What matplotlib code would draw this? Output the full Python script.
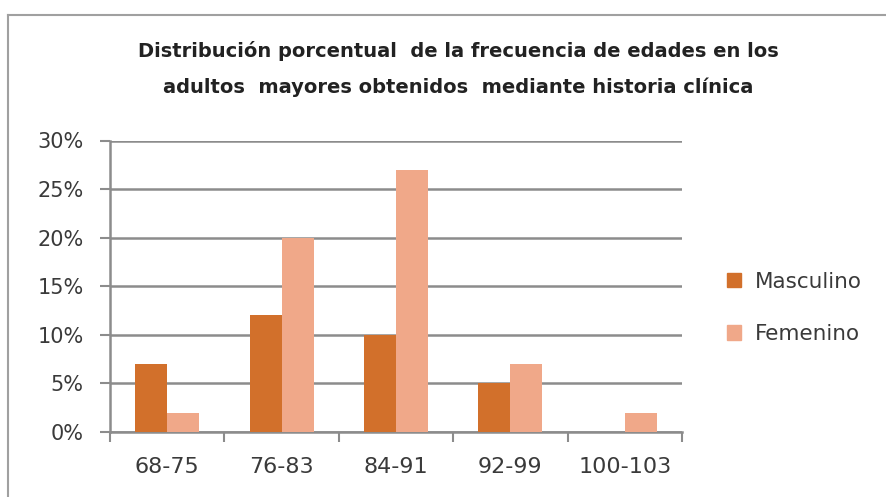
import matplotlib
matplotlib.use("Agg")
import matplotlib.pyplot as plt
from matplotlib.lines import Line2D
from matplotlib.patches import Patch
import numpy as np

categories = ["68-75", "76-83", "84-91", "92-99", "100-103"]
masculino = [7, 12, 10, 5, 0]
femenino = [2, 20, 27, 7, 2]
yticks = [0, 5, 10, 15, 20, 25, 30]
title = ("Distribución porcentual  de la frecuencia de edades en los\n"
         "adultos  mayores obtenidos  mediante historia clínica")

c_m = "#D2702B"
c_f = "#F0A889"
grid_c = "#8C8C8C"
txt_c = "#3A3A3A"

plt.rcParams['font.family'] = ['DejaVu Sans']

W, H = 886, 497
fig = plt.figure(figsize=(W/100, H/100), dpi=100)
ax = fig.add_axes([110/W, 1-432/H, (682-110)/W, (432-140.5)/H])

x = np.arange(len(categories))
bw = 0.28
ax.bar(x - bw/2, masculino, bw, color=c_m, zorder=3)
ax.bar(x + bw/2, femenino, bw, color=c_f, zorder=3)

ax.set_xlim(-0.5, len(categories) - 0.5)
ax.set_ylim(0, 30)
ax.set_yticks(yticks)
ax.set_yticklabels([f"{v}%" for v in yticks], fontsize=15, color=txt_c)
ax.yaxis.grid(True, color=grid_c, linewidth=1.8, zorder=0)
ax.set_axisbelow(True)

ax.set_xticks(x)
ax.set_xticklabels(categories, fontsize=16, color=txt_c)
ax.tick_params(axis='x', length=0, pad=18)
ax.set_xticks(np.arange(-0.5, len(categories)), minor=True)
ax.tick_params(axis='x', which='minor', length=7, width=1.5, color=grid_c, direction='out')
ax.tick_params(axis='y', length=7, width=1.5, color=grid_c, direction='out', pad=12)

for s in ['top', 'right']:
    ax.spines[s].set_visible(False)
for s in ['left', 'bottom']:
    ax.spines[s].set_color(grid_c)
    ax.spines[s].set_linewidth(1.8)

fig.text(458/W, 1-69/H, title, ha='center', va='center', fontsize=14,
         fontweight='bold', linespacing=2.05, color="#222222")

handles = [Patch(color=c_m), Patch(color=c_f)]
fig.legend(handles, ["Masculino", "Femenino"], loc='center left',
           bbox_to_anchor=(708/W, 1-308/H), frameon=False, fontsize=15.5,
           handlelength=0.65, handleheight=0.65, handletextpad=0.65, labelspacing=1.5,
           labelcolor=txt_c)

# border
fig.add_artist(Line2D([8/W, 8/W], [0, 1-15/H], color="#A0A0A0", linewidth=1.5, transform=fig.transFigure))
fig.add_artist(Line2D([8/W, 1], [1-15/H, 1-15/H], color="#A0A0A0", linewidth=1.5, transform=fig.transFigure))

fig.savefig("out.png", dpi=100)
